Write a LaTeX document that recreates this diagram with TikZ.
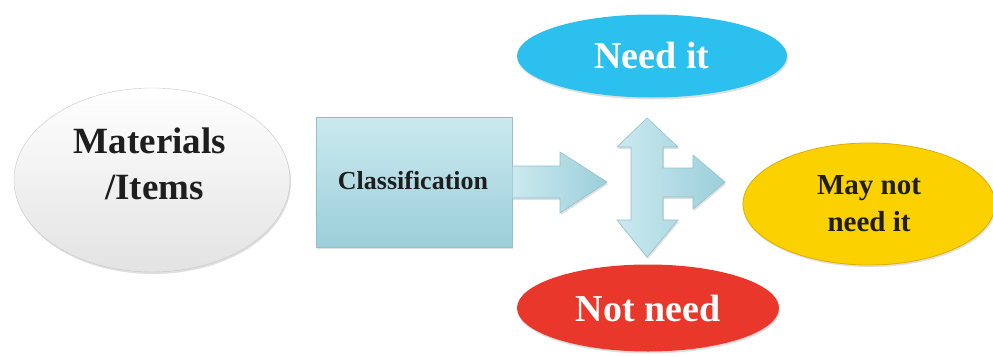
\documentclass[tikz,border=0pt]{standalone}
\usepackage{fontspec}
\setmainfont{Liberation Serif}
\usetikzlibrary{shapes.geometric,shadows,calc}
\definecolor{boxtop}{HTML}{CBE9EF}
\definecolor{boxbot}{HTML}{9CCFDA}
\definecolor{boxline}{HTML}{8FC0CC}
\definecolor{needc}{HTML}{2CC0EE}
\definecolor{notc}{HTML}{E9382B}
\definecolor{mayc}{HTML}{FCD100}
\definecolor{mayline}{HTML}{DDAE00}
\definecolor{txt}{HTML}{1E1E1E}
\begin{document}
\begin{tikzpicture}[x=1pt,y=-1pt,
  oval/.style={ellipse, inner sep=0pt, align=center, font=\bfseries, text=txt,
    drop shadow={opacity=0.25, shadow xshift=1pt, shadow yshift=-2pt}},
  blockarrow/.style={draw=boxline, line width=0.6pt, left color=boxtop, right color=boxbot,
    drop shadow={opacity=0.25, shadow xshift=1pt, shadow yshift=-2pt}}]
\useasboundingbox (0,0) rectangle (993,356);

\node[oval, minimum width=276pt, minimum height=184pt, draw=gray!45, top color=white, bottom color=gray!22] (mat) at (152,180) {};
\node[align=center, inner sep=0pt, text=txt, font=\bfseries\fontsize{37}{46}\selectfont] (matt) at (150,164) {Materials\\\ /Items};

\node[draw=boxline, line width=0.6pt, top color=boxtop, bottom color=boxbot, minimum width=196pt, minimum height=130pt,
  inner sep=0pt, text=txt,
  drop shadow={opacity=0.25, shadow xshift=1pt, shadow yshift=-2pt}] (cls) at (414,182) {};
\node[font=\bfseries\fontsize{26}{30}\selectfont, text=txt, inner sep=0pt] (clst) at (413,180) {Classification};

\node[oval, minimum width=270pt, minimum height=83pt, fill=needc, text=white,
  font=\bfseries\fontsize{38}{44}\selectfont] (need) at (652,56) {Need it};

\node[oval, minimum width=262pt, minimum height=87pt, fill=notc, text=white,
  font=\bfseries\fontsize{38}{44}\selectfont] (notn) at (648,308) {Not need};

\node[oval, minimum width=252pt, minimum height=122pt, draw=mayline, line width=0.8pt, fill=mayc,
  font=\bfseries\fontsize{29}{37}\selectfont] (may) at (869,204) {May not\\need it};

% arrow from classification
\path[blockarrow] ($(cls.east)+(0,-16)$) -- (560,166) -- (560,152) -- (607,182) -- (560,213) -- (560,198)
  -- ($(cls.east)+(0,16)$) -- cycle;

% three-way arrow
\path[blockarrow] (647,118) -- (678,147) -- (663,147) -- (663,168) -- (693,168) -- (693,155) -- (725,182)
  -- (693,209) -- (693,197) -- (663,197) -- (663,220) -- (678,220) -- (647,257) -- (617,220)
  -- (631,220) -- (631,147) -- (617,147) -- cycle;
\end{tikzpicture}
\end{document}
